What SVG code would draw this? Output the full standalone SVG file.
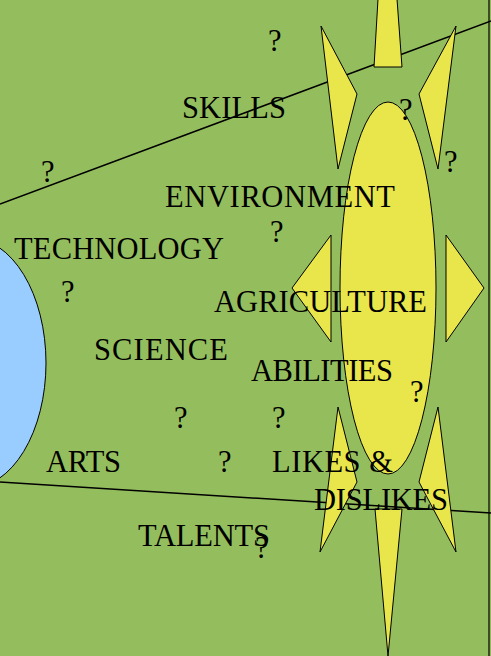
<svg xmlns="http://www.w3.org/2000/svg" width="491" height="656" viewBox="0 0 491 656">
<style>
.t{font-family:"Liberation Serif","Times New Roman",serif;font-size:30.5px;fill:#000}
.ray{fill:#E8E64A;stroke:#000;stroke-width:1}
.ln{stroke:#000;stroke-width:1.5;fill:none}
</style>
<rect id="background" x="0" y="0" width="491" height="656" fill="#94BE5E"/>
<line x1="489" y1="0" x2="489" y2="656" stroke="#000" stroke-width="1.2"/>
<g id="connectors">
<line class="ln" x1="0" y1="204" x2="491" y2="21"/>
<line class="ln" x1="0" y1="482" x2="491" y2="513"/>
</g>
<g id="planet">
<ellipse cx="-30" cy="363" rx="76" ry="125" fill="#99CCFF" stroke="#000" stroke-width="1"/>
</g>
<g id="sun">
<polygon class="ray" points="378,-1 397,-1 402,67 374,67"/>
<polygon class="ray" points="321,26 357,94 338,169"/>
<polygon class="ray" points="456,26 419,94 438,169"/>
<polygon class="ray" points="292,288 331,235 331,342"/>
<polygon class="ray" points="484,288 446,235 446,342"/>
<polygon class="ray" points="338,407 357,482 320,552"/>
<polygon class="ray" points="438,407 419,482 456,552"/>
<polygon class="ray" points="375,509 402,509 388,656"/>
<ellipse cx="388" cy="288" rx="48" ry="186" fill="#E8E64A" stroke="#000" stroke-width="1"/>
</g>
<g id="labels">
<text class="t" x="182" y="118" textLength="104" lengthAdjust="spacing">SKILLS</text>
<text class="t" x="165" y="207" textLength="230" lengthAdjust="spacing">ENVIRONMENT</text>
<text class="t" x="14" y="259" textLength="210" lengthAdjust="spacing">TECHNOLOGY</text>
<text class="t" x="214" y="312" textLength="213" lengthAdjust="spacing">AGRICULTURE</text>
<text class="t" x="94" y="360" textLength="134" lengthAdjust="spacing">SCIENCE</text>
<text class="t" x="251" y="381" textLength="142" lengthAdjust="spacing">ABILITIES</text>
<text class="t" x="46" y="472" textLength="75" lengthAdjust="spacing">ARTS</text>
<text class="t" x="272" y="472" textLength="121" lengthAdjust="spacing">LIKES &amp;</text>
<text class="t" x="314" y="510" textLength="134" lengthAdjust="spacing">DISLIKES</text>
<text class="t" x="138" y="546" textLength="132" lengthAdjust="spacing">TALENTS</text>
</g>
<g id="questions">
<text class="t" x="268" y="51">?</text>
<text class="t" x="399" y="120">?</text>
<text class="t" x="444" y="172">?</text>
<text class="t" x="41" y="182">?</text>
<text class="t" x="270" y="242">?</text>
<text class="t" x="61" y="302">?</text>
<text class="t" x="410" y="402">?</text>
<text class="t" x="174" y="428">?</text>
<text class="t" x="272" y="428">?</text>
<text class="t" x="218" y="472">?</text>
<text class="t" x="255" y="558">?</text>
</g>
</svg>
